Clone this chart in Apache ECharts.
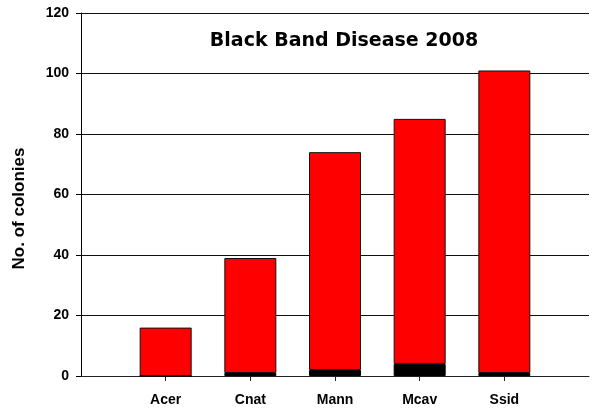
<!DOCTYPE html>
<html>
<head>
<meta charset="utf-8">
<script src="https://cdn.jsdelivr.net/npm/echarts@6/dist/echarts.min.js"></script>
<style>
  html, body { margin: 0; padding: 0; background: #fff; }
  #chart { width: 592px; height: 410px; }
</style>
</head>
<body>
<div id="chart"></div>
<script>
// empty slots at both ends, as in the original plot
var categories = ['', 'Acer', 'Cnat', 'Mann', 'Mcav', 'Ssid', ''];
var blackBand = [null, 0, 1, 2, 4, 1, null];      // black part at the bottom
var healthy = [null, 16, 38, 72, 81, 100, null];  // red part on top
var yTicks = [0, 20, 40, 60, 80, 100, 120];

var chart = echarts.init(document.getElementById('chart'));

var font = 'Liberation Sans, Arial, sans-serif';

var option = {
  animation: false,
  backgroundColor: '#fff',
  title: {
    text: 'Black Band Disease 2008',
    left: 339,
    textAlign: 'center',
    top: 27,
    textStyle: { fontFamily: 'DejaVu Sans', fontWeight: 'bold', fontSize: 19, color: '#000' }
  },
  grid: { left: 81, top: 13, bottom: 34, width: 516 },
  xAxis: {
    type: 'category',
    data: categories,
    boundaryGap: false,
    axisLine: { lineStyle: { color: '#222', width: 1 } },
    axisTick: {
      length: 5,
      interval: function (i) { return i > 0 && i < categories.length - 1; },
      lineStyle: { color: '#222' }
    },
    axisLabel: { margin: 17, fontFamily: font, fontWeight: 'bold', fontSize: 14, color: '#000' }
  },
  yAxis: {
    type: 'value',
    min: yTicks[0],
    max: yTicks[yTicks.length - 1],
    interval: 20,
    name: 'No. of colonies',
    nameLocation: 'middle',
    nameGap: 53,
    nameTextStyle: { fontFamily: font, fontWeight: 'bold', fontSize: 17, color: '#000', padding: [0, 28, 0, 0] },
    axisLine: { show: true, lineStyle: { color: '#000', width: 1 } },
    axisTick: { show: true, length: 5, lineStyle: { color: '#000' } },
    axisLabel: { margin: 12, fontFamily: font, fontWeight: 'bold', fontSize: 14, color: '#000' },
    splitLine: { lineStyle: { color: '#111', width: 1 } }
  },
  series: [{
    name: 'BBD',
    type: 'bar',
    stack: 'total',
    barWidth: 52,
    data: blackBand,
    itemStyle: { color: '#000', borderColor: '#000', borderWidth: 1 }
  }, {
    name: 'Healthy',
    type: 'bar',
    stack: 'total',
    barWidth: 52,
    data: healthy,
    itemStyle: { color: '#ff0000', borderColor: '#111', borderWidth: 1 }
  }]
};

chart.setOption(option);
</script>
</body>
</html>
